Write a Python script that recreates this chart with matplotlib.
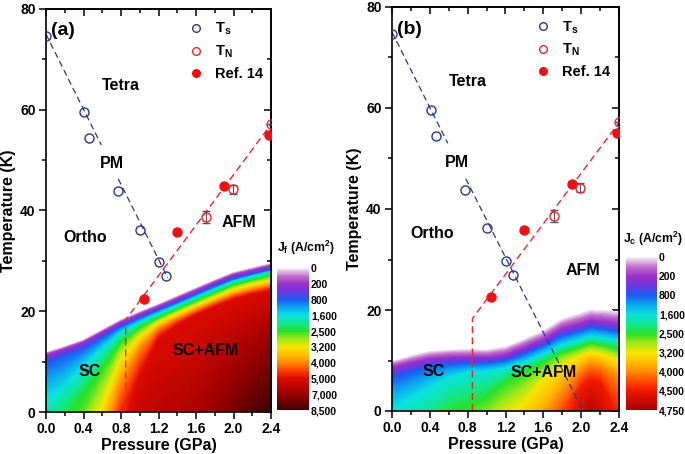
import numpy as np
import matplotlib
matplotlib.use("Agg")
import matplotlib.pyplot as plt
from matplotlib.cm import ScalarMappable
from matplotlib.colors import LinearSegmentedColormap, Normalize
from matplotlib.lines import Line2D
from matplotlib.ticker import FormatStrFormatter, MultipleLocator

plt.rcParams["font.family"] = ["Liberation Sans", "DejaVu Sans"]
plt.rcParams["font.weight"] = "bold"
plt.rcParams["axes.labelweight"] = "bold"
plt.rcParams["mathtext.fontset"] = "custom"
plt.rcParams["mathtext.rm"] = "Liberation Sans:bold"
plt.rcParams["mathtext.it"] = "Liberation Sans:bold"
plt.rcParams["mathtext.bf"] = "Liberation Sans:bold"

nan = np.nan

# --- phase boundaries (same for both panels) ---
ts_p = [0.0, 0.41, 0.46, 0.77, 1.0, 1.21, 1.28]
ts_t = [74.7, 59.6, 54.4, 43.8, 36.2, 29.8, 27.0]
tn_p = [1.71, 1.99, 2.40]
tn_t = [38.7, 44.2, 57.2]
tn_err = [1.2, 0.9, 0.0]
ref_p = [1.045, 1.40, 1.90, 2.38]
ref_t = [22.5, 35.8, 44.9, 55.0]

ts_line_p_a = [0.0, 0.59, nan, 0.77, 1.30]
ts_line_t_a = [75.0, 53.0, nan, 46.3, 26.6]
ts_line_p_b = [0.0, 0.59, nan, 0.78, 2.02]
ts_line_t_b = [75.0, 53.0, nan, 46.0, 0.0]
tn_line_p = [0.85, 0.85, 2.42]
tn_line_t = [0.0, 18.3, 57.6]

# --- Jf map, panel (a): temperature where each colour level is reached ---
# level index k -> colorbar label k; nan = level not reached above T=0
levels_a = ["0", "200", "800", "1,600", "2,500", "3,200", "4,000", "5,000", "7,000", "8,500"]
p_a = [0.0, 0.2, 0.4, 0.6, 0.8, 1.0, 1.2, 1.4, 1.6, 1.8, 2.0, 2.2, 2.4]
tc_a = [11.8, 13.0, 14.3, 16.3, 18.3, 19.9, 21.4, 23.0, 24.6, 26.2, 27.7, 28.6, 29.5]
l1_a = [11.2, 12.4, 13.7, 15.7, 17.7, 19.3, 20.8, 22.4, 24.0, 25.6, 27.1, 28.0, 28.9]
l2_a = [9.6, 11.0, 12.4, 14.6, 16.8, 18.5, 20.1, 21.6, 23.2, 24.8, 26.3, 27.2, 28.2]
l3_a = [2.5, 5.0, 9.0, 12.5, 15.8, 17.8, 19.5, 21.1, 22.7, 24.3, 25.9, 26.9, 27.8]
l4_a = [nan, nan, 3.0, 8.5, 13.8, 16.6, 18.6, 20.3, 21.9, 23.5, 25.1, 26.1, 27.0]
l5_a = [nan, nan, nan, 1.0, 10.5, 14.8, 17.6, 19.4, 21.0, 22.6, 24.2, 25.2, 26.0]
l6_a = [nan, nan, nan, nan, 5.5, 12.5, 16.5, 18.5, 20.2, 21.8, 23.3, 24.3, 25.1]
l7_a = [nan, nan, nan, nan, nan, 7.0, 14.5, 17.2, 19.2, 20.8, 22.3, 23.3, 24.1]
l8_a = [nan, nan, nan, nan, nan, nan, nan, nan, nan, 2.0, 7.0, 11.0, 15.0]
bottom_a = [3.3, 3.8, 4.2, 5.1, 6.7, 7.35, 7.5, 7.6, 7.75, 8.05, 8.4, 8.75, 9.0]

# --- Jc map, panel (b) ---
levels_b = ["0", "200", "800", "1,600", "2,500", "3,200", "4,000", "4,500", "4,750"]
p_b = [0.0, 0.2, 0.4, 0.6, 0.8, 1.0, 1.2, 1.4, 1.6, 1.8, 2.0, 2.1, 2.2, 2.4]
tc_b = [9.8, 10.9, 11.8, 12.1, 12.2, 12.1, 12.7, 14.2, 15.8, 18.2, 19.4, 20.0, 20.0, 19.7]
l1_b = [8.6, 9.4, 10.2, 10.5, 10.6, 10.5, 11.0, 12.4, 14.0, 16.2, 17.2, 17.8, 17.7, 17.2]
l2_b = [6.5, 7.6, 8.8, 9.2, 9.4, 9.4, 9.9, 11.2, 12.8, 14.8, 15.8, 16.4, 16.2, 15.6]
l3_b = [0.5, 2.5, 4.5, 6.5, 7.5, 7.8, 8.4, 9.6, 11.2, 13.0, 14.1, 14.7, 14.5, 13.9]
l4_b = [nan, nan, nan, nan, nan, 2.5, 5.5, 7.5, 9.5, 11.5, 12.6, 13.3, 13.0, 12.2]
l5_b = [nan, nan, nan, nan, nan, nan, nan, 1.5, 6.0, 9.0, 10.8, 11.6, 11.2, 9.8]
l6_b = [nan, nan, nan, nan, nan, nan, nan, nan, nan, 3.5, 8.0, 9.2, 8.8, 6.5]
l7_b = [nan, nan, nan, nan, nan, nan, nan, nan, nan, nan, 4.5, 6.0, 5.5, nan]
bottom_b = [3.05, 3.2, 3.5, 3.9, 4.1, 4.35, 4.8, 5.2, 5.7, 6.5, 7.4, 7.8, 7.5, 6.8]

# colour anchors (position in level-index units, colour)
colors_a = [(0.0, "#f6eef6"), (0.5, "#c070cc"), (1.0, "#9a2fc8"), (1.5, "#6a38e0"),
            (2.0, "#1c5cf2"), (2.5, "#0aa8f0"), (3.0, "#0ae0e0"), (3.5, "#10e890"),
            (4.0, "#28e028"), (4.5, "#a0e818"), (5.0, "#f6e600"), (5.5, "#ffbe00"),
            (6.0, "#ff8a00"), (6.5, "#ff4000"), (7.0, "#dc0a00"), (8.0, "#9c0000"),
            (9.0, "#420000")]
colors_b = colors_a[:13] + [(6.5, "#ff4a00"), (7.0, "#f01800"), (8.0, "#a80000")]


def make_cmap(anchors, n):
    return LinearSegmentedColormap.from_list(
        "jc", [(pos / n, c) for pos, c in anchors])


def build_grid(p_nodes, level_rows, bottom):
    # curvilinear grid: one row per colour level, last row at T = 0
    bottom = np.asarray(bottom, float)
    n_rows = len(level_rows) + 1
    X = np.tile(np.asarray(p_nodes, float), (n_rows, 1))
    Y = np.zeros((n_rows, len(p_nodes)))
    Z = np.zeros((n_rows, len(p_nodes)))
    for k, row in enumerate(level_rows):
        row = np.asarray(row, float)
        reached = ~np.isnan(row)
        Y[k] = np.where(reached, row, 0.0)
        Z[k] = np.where(reached, k, bottom)
    Z[-1] = bottom
    return X, Y, Z


def style_axes(ax):
    ax.set_xlim(0, 2.4)
    ax.set_ylim(0, 80)
    ax.xaxis.set_major_locator(MultipleLocator(0.4))
    ax.xaxis.set_minor_locator(MultipleLocator(0.2))
    ax.yaxis.set_major_locator(MultipleLocator(20))
    ax.yaxis.set_minor_locator(MultipleLocator(10))
    ax.xaxis.set_major_formatter(FormatStrFormatter("%.1f"))
    ax.tick_params(which="both", direction="out", labelsize=10, width=1.1, pad=2.5)
    ax.tick_params(which="major", length=5)
    ax.tick_params(which="minor", length=3)
    for s in ax.spines.values():
        s.set_linewidth(1.2)
    for side in ("top", "right"):
        if side == "top":
            sec = ax.secondary_xaxis("top")
            sec.xaxis.set_major_locator(MultipleLocator(0.4))
            sec.xaxis.set_minor_locator(MultipleLocator(0.2))
        else:
            sec = ax.secondary_yaxis("right")
            sec.yaxis.set_major_locator(MultipleLocator(20))
            sec.yaxis.set_minor_locator(MultipleLocator(10))
        sec.tick_params(which="both", direction="in", width=1.1,
                        labeltop=False, labelright=False)
        sec.tick_params(which="major", length=5)
        sec.tick_params(which="minor", length=3)
        sec.spines[side].set_linewidth(1.2)
    ax.set_xlabel("Pressure (GPa)", fontsize=11.5, fontweight="bold", labelpad=1)
    ax.set_ylabel("Temperature (K)", fontsize=11.5, fontweight="bold", labelpad=3)


def draw_panel(ax, p_nodes, level_rows, bottom, cmap, n, ts_line_p, ts_line_t):
    X, Y, Z = build_grid(p_nodes, level_rows, bottom)
    ax.contourf(X, Y, Z, levels=np.linspace(0, n, 181), cmap=cmap,
                vmin=0, vmax=n, zorder=1)
    ax.plot(ts_line_p, ts_line_t, ls=(0, (5, 3)), color="#2b3590", lw=0.9, zorder=2)
    ax.plot(tn_line_p, tn_line_t, ls=(0, (5, 3)), color="#e8262b", lw=1.0, zorder=2)
    ax.plot(ts_p, ts_t, "o", mfc="none", mec="#2b3590", ms=6.5, mew=1.0, zorder=3)
    ax.errorbar(tn_p, tn_t, yerr=tn_err, fmt="o", mfc="none", mec="#e8262b",
                ecolor="#555555", ms=6.5, mew=1.0, elinewidth=0.8, capsize=3,
                capthick=1.0, zorder=3)
    ax.plot(ref_p, ref_t, "o", color="#ee1111", ms=6.5, zorder=3)

    handles = [
        Line2D([], [], ls="none", marker="o", mfc="none", mec="#2b3590", ms=5.5),
        Line2D([], [], ls="none", marker="o", mfc="none", mec="#e8262b", ms=5.5),
        Line2D([], [], ls="none", marker="o", color="#ee1111", ms=5.5),
    ]
    labels = [r"T$_{\mathregular{s}}$", r"T$_{\mathregular{N}}$", "Ref. 14"]
    ax.legend(handles, labels, loc="upper left", bbox_to_anchor=(0.64, 0.97),
              frameon=False, fontsize=10.5, handlelength=0.8, handletextpad=0.9,
              labelspacing=0.45, borderpad=0, borderaxespad=0)
    style_axes(ax)


def add_colorbar(fig, rect, cmap, labels, title, title_xy):
    n = len(labels) - 1
    cax = fig.add_axes(rect)
    cb = fig.colorbar(ScalarMappable(norm=Normalize(0, n), cmap=cmap), cax=cax)
    cb.set_ticks(range(n + 1))
    cb.set_ticklabels(labels)
    cax.invert_yaxis()
    cb.outline.set_visible(False)
    cax.tick_params(length=0, labelsize=7.5, pad=1.5)
    fig.text(title_xy[0], title_xy[1], title, fontsize=8.8, ha="left", va="center")


def main():
    fig = plt.figure(figsize=(6.85, 4.54), dpi=100)
    ax_a = fig.add_axes([46 / 685, 1 - 412 / 454, 225 / 685, 403 / 454])
    ax_b = fig.add_axes([392 / 685, 1 - 411 / 454, 227 / 685, 404 / 454])

    cmap_a = make_cmap(colors_a, len(levels_a) - 1)
    cmap_b = make_cmap(colors_b, len(levels_b) - 1)

    rows_a = [tc_a, l1_a, l2_a, l3_a, l4_a, l5_a, l6_a, l7_a, l8_a]
    rows_b = [tc_b, l1_b, l2_b, l3_b, l4_b, l5_b, l6_b, l7_b]
    draw_panel(ax_a, p_a, rows_a, bottom_a, cmap_a, len(levels_a) - 1,
               ts_line_p_a, ts_line_t_a)
    draw_panel(ax_b, p_b, rows_b, bottom_b, cmap_b, len(levels_b) - 1,
               ts_line_p_b, ts_line_t_b)

    txt = dict(fontsize=11.5, ha="center", va="center", zorder=4)
    for ax, pos in ((ax_a, {"Tetra": (0.80, 64.9), "PM": (0.70, 49.4), "Ortho": (0.42, 34.7),
                            "AFM": (2.06, 37.7), "SC": (0.47, 8.0), "SC+AFM": (1.70, 12.3)}),
                    (ax_b, {"Tetra": (0.80, 65.3), "PM": (0.69, 49.2), "Ortho": (0.42, 35.2),
                            "AFM": (2.02, 27.9), "SC": (0.44, 7.8), "SC+AFM": (1.60, 7.6)})):
        for s, (x, y) in pos.items():
            ax.text(x, y, s, **txt)

    ax_a.text(0.022, 0.947, "(a)", transform=ax_a.transAxes, fontsize=14, va="center")
    ax_b.text(0.023, 0.945, "(b)", transform=ax_b.transAxes, fontsize=14, va="center")

    add_colorbar(fig, [277 / 685, 1 - 410 / 454, 32 / 685, 142 / 454], cmap_a, levels_a,
                 r"J$_{\mathregular{f}}$ (A/cm$^{\mathregular{2}}$)", (277 / 685, 1 - 248 / 454))
    add_colorbar(fig, [626 / 685, 1 - 410 / 454, 31 / 685, 153 / 454], cmap_b, levels_b,
                 r"J$_{\mathregular{c}}$ (A/cm$^{\mathregular{2}}$)", (623 / 685, 1 - 239 / 454))

    fig.savefig("out.png", dpi=100)
    plt.close(fig)


if __name__ == "__main__":
    main()
